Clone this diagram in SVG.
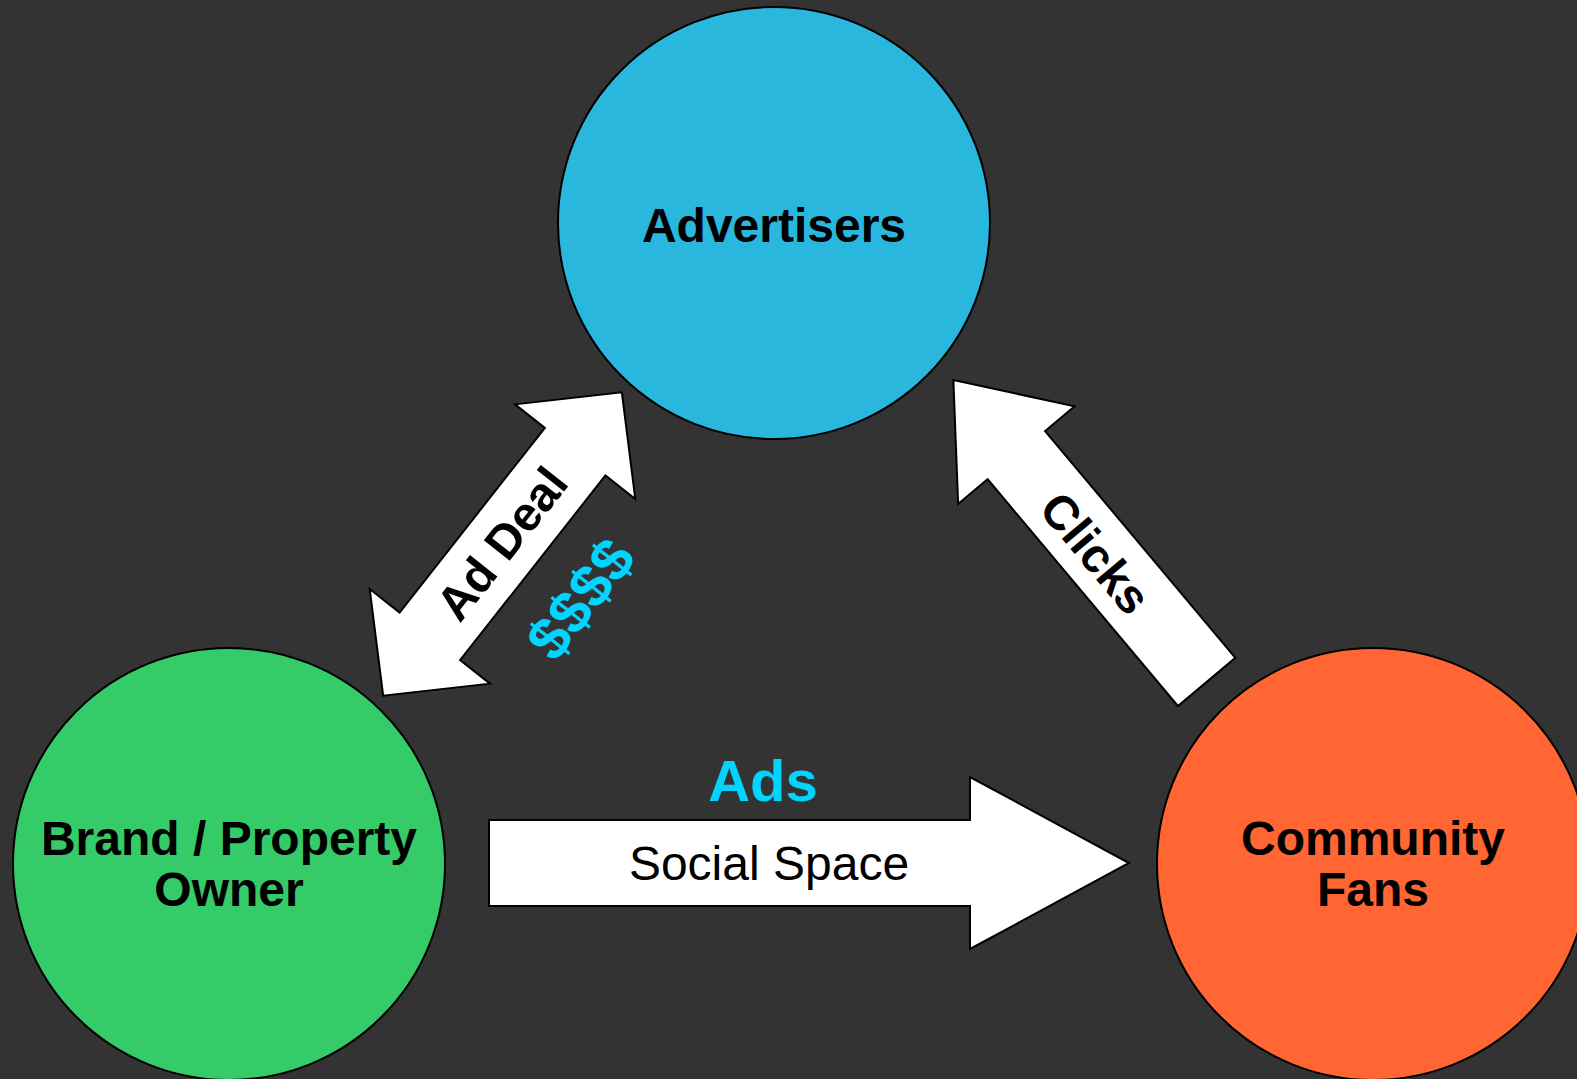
<svg xmlns="http://www.w3.org/2000/svg" width="1577" height="1079" viewBox="0 0 1577 1079">
<style>
.node{stroke:#000;stroke-width:2}
.arrow{fill:#fff;stroke:#000;stroke-width:2;stroke-linejoin:miter}
.lbl{font-family:"Liberation Sans",Arial,sans-serif;font-weight:bold;font-size:48px;fill:#000;text-anchor:middle}
.cyan{font-family:"Liberation Sans",Arial,sans-serif;font-weight:bold;fill:#00D4FF;text-anchor:middle}
.plain{font-family:"Liberation Sans",Arial,sans-serif;font-size:48px;fill:#000;text-anchor:middle}
</style>
<rect width="1577" height="1079" fill="#333333"/>
<g id="connectors">
  <g id="ad-deal" transform="translate(502.5,544) rotate(-51.8)">
    <polygon class="arrow" points="-193,0 -117.5,-76.5 -117.5,-38.5 117.5,-38.5 117.5,-76.5 193,0 117.5,76.5 117.5,38.5 -117.5,38.5 -117.5,76.5"/>
    <text class="lbl" x="0" y="16">Ad Deal</text>
    <text class="cyan" x="5" y="116" font-size="60">$$$$</text>
  </g>
  <g id="clicks" transform="translate(1080,531) rotate(50)">
    <polygon class="arrow" points="-197,0 -99,-76 -99,-37.5 197,-37.5 197,37.5 -99,37.5 -99,76"/>
    <text class="lbl" x="27" y="19">Clicks</text>
  </g>
  <g id="social-space">
    <polygon class="arrow" points="489,820 970,820 970,777 1129,863 970,949 970,906 489,906"/>
    <text class="plain" x="769" y="880">Social Space</text>
    <text class="cyan" x="763" y="801" font-size="58">Ads</text>
  </g>
</g>
<g id="advertisers">
  <circle class="node" cx="774" cy="223" r="216" fill="#29B7DD"/>
  <text class="lbl" x="774" y="242">Advertisers</text>
</g>
<g id="brand-owner">
  <circle class="node" cx="229" cy="864" r="216" fill="#35CB68"/>
  <text class="lbl" x="229" y="855">Brand / Property</text>
  <text class="lbl" x="229" y="906">Owner</text>
</g>
<g id="community-fans">
  <circle class="node" cx="1373" cy="864" r="216" fill="#FF6633"/>
  <text class="lbl" x="1373" y="855">Community</text>
  <text class="lbl" x="1373" y="906">Fans</text>
</g>
</svg>
